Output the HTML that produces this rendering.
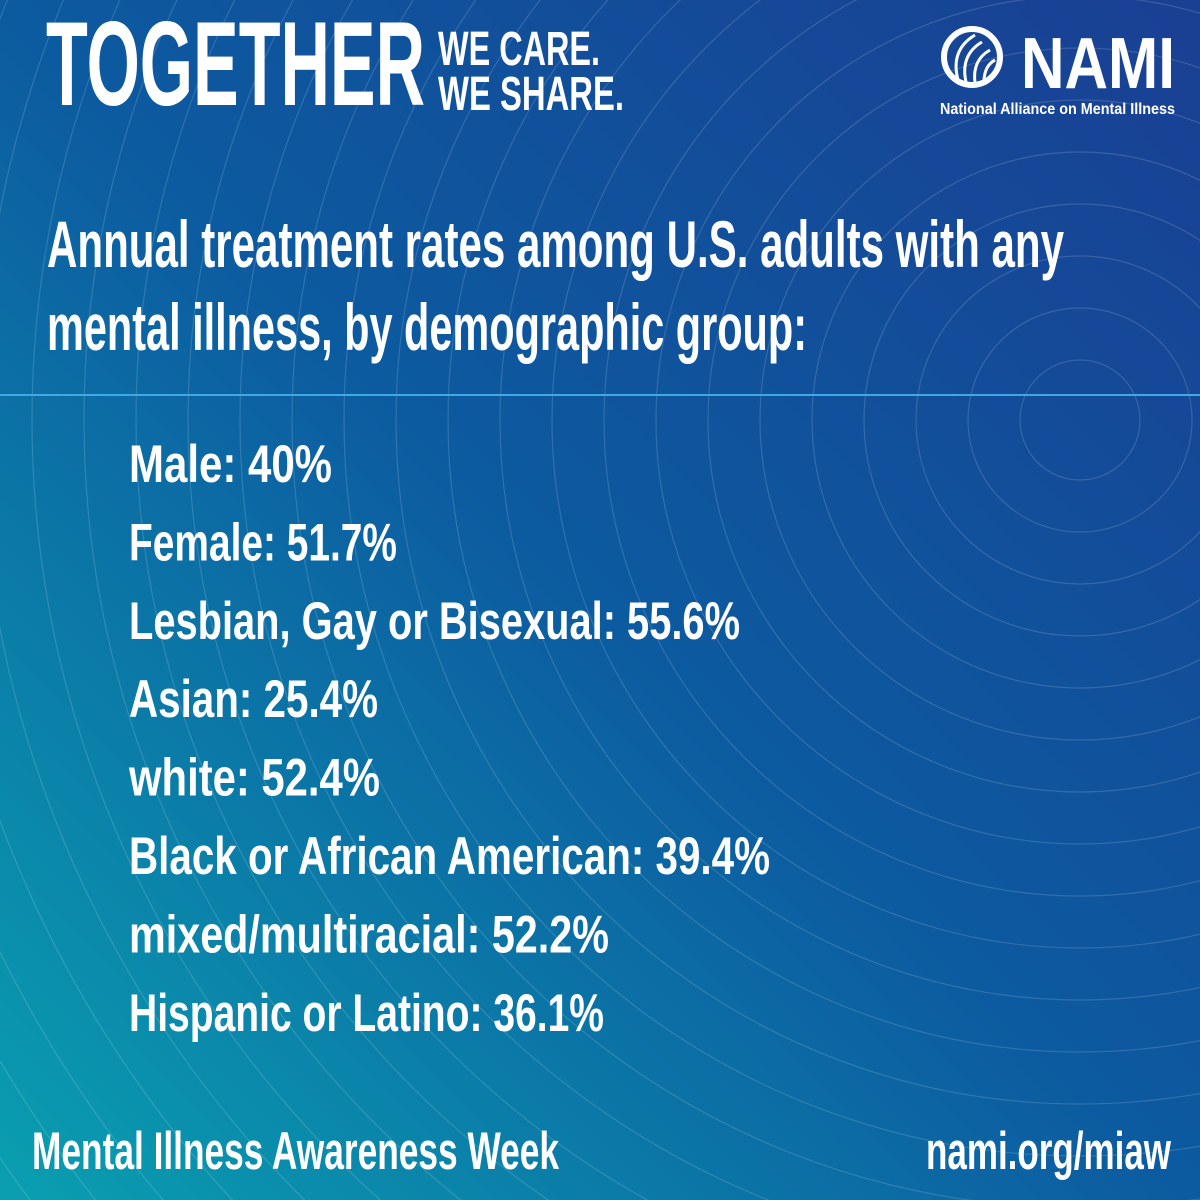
<!DOCTYPE html>
<html><head><meta charset="utf-8"><style>
html,body{margin:0;padding:0;width:1200px;height:1200px;overflow:hidden}
svg{display:block;overflow:hidden}
text{font-family:"Liberation Sans",sans-serif;fill:#fff}
</style></head><body>
<svg width="1200" height="1200" viewBox="0 0 1200 1200">
<defs>
<linearGradient id="bg" x1="1" y1="0" x2="0" y2="1">
<stop offset="0" stop-color="#1a3f93"/>
<stop offset="0.5" stop-color="#0c5aa0"/>
<stop offset="1" stop-color="#0a9fb0"/>
</linearGradient>
<clipPath id="clip"><rect width="1200" height="1200"/></clipPath>
</defs>
<g clip-path="url(#clip)">
<rect width="1200" height="1200" fill="url(#bg)"/>
<g id="rings" fill="none" stroke="rgba(255,255,255,0.15)" stroke-width="1.2"></g>
<line x1="0" y1="395" x2="1200" y2="395" stroke="#3fa9e6" stroke-width="2"/>

<text x="46" y="105" font-size="120" font-weight="bold" textLength="379" lengthAdjust="spacingAndGlyphs">TOGETHER</text>
<text x="438" y="65" font-size="48" font-weight="bold" textLength="162" lengthAdjust="spacingAndGlyphs">WE CARE.</text>
<text x="438" y="110" font-size="48" font-weight="bold" textLength="186" lengthAdjust="spacingAndGlyphs">WE SHARE.</text>

<g>
<circle cx="972" cy="57" r="28" fill="none" stroke="#fff" stroke-width="6"/>
<path d="M958 80 Q950 50 975 35 M966 82 Q960 55 982 42 M975 83 Q972 60 990 50 M984 82 Q984 66 995 60" fill="none" stroke="#fff" stroke-width="3"/>
<text x="1021" y="88" font-size="72" font-weight="bold" textLength="154" lengthAdjust="spacingAndGlyphs">NAMI</text>
<text x="940" y="114" font-size="16" font-weight="bold" textLength="235" lengthAdjust="spacingAndGlyphs">National Alliance on Mental Illness</text>
</g>

<text x="47" y="267" font-size="66" font-weight="bold" textLength="1017" lengthAdjust="spacingAndGlyphs">Annual treatment rates among U.S. adults with any</text>
<text x="47" y="350" font-size="66" font-weight="bold" textLength="760" lengthAdjust="spacingAndGlyphs">mental illness, by demographic group:</text>

<g id="list"></g>

<text x="32" y="1169" font-size="53" font-weight="bold" textLength="527" lengthAdjust="spacingAndGlyphs">Mental Illness Awareness Week</text>
<text x="926" y="1169" font-size="53" font-weight="bold" textLength="245" lengthAdjust="spacingAndGlyphs">nami.org/miaw</text>
</g>
</svg>
<script>
const groups = ["Male","Female","Lesbian, Gay or Bisexual","Asian","white","Black or African American","mixed/multiracial","Hispanic or Latino"];
const rates = ["40%","51.7%","55.6%","25.4%","52.4%","39.4%","52.2%","36.1%"];
const NS="http://www.w3.org/2000/svg";
const widths=[203,268,611,249,251,641,480,475];
const list=document.getElementById('list');
groups.forEach((g,i)=>{
  const t=document.createElementNS(NS,'text');
  t.setAttribute('x',129);
  t.setAttribute('y',482+i*78.4);
  t.setAttribute('font-size',53);
  t.setAttribute('font-weight','bold');
  t.setAttribute('textLength',widths[i]);
  t.setAttribute('lengthAdjust','spacingAndGlyphs');
  t.textContent=g+': '+rates[i];
  
  
  list.appendChild(t);
});
const rings=document.getElementById('rings');
for(let r=60;r<1500;r+=52){
  const c=document.createElementNS(NS,'circle');
  c.setAttribute('cx',1080);c.setAttribute('cy',420);c.setAttribute('r',r);
  
  
  rings.appendChild(c);
}
</script>
</body></html>
